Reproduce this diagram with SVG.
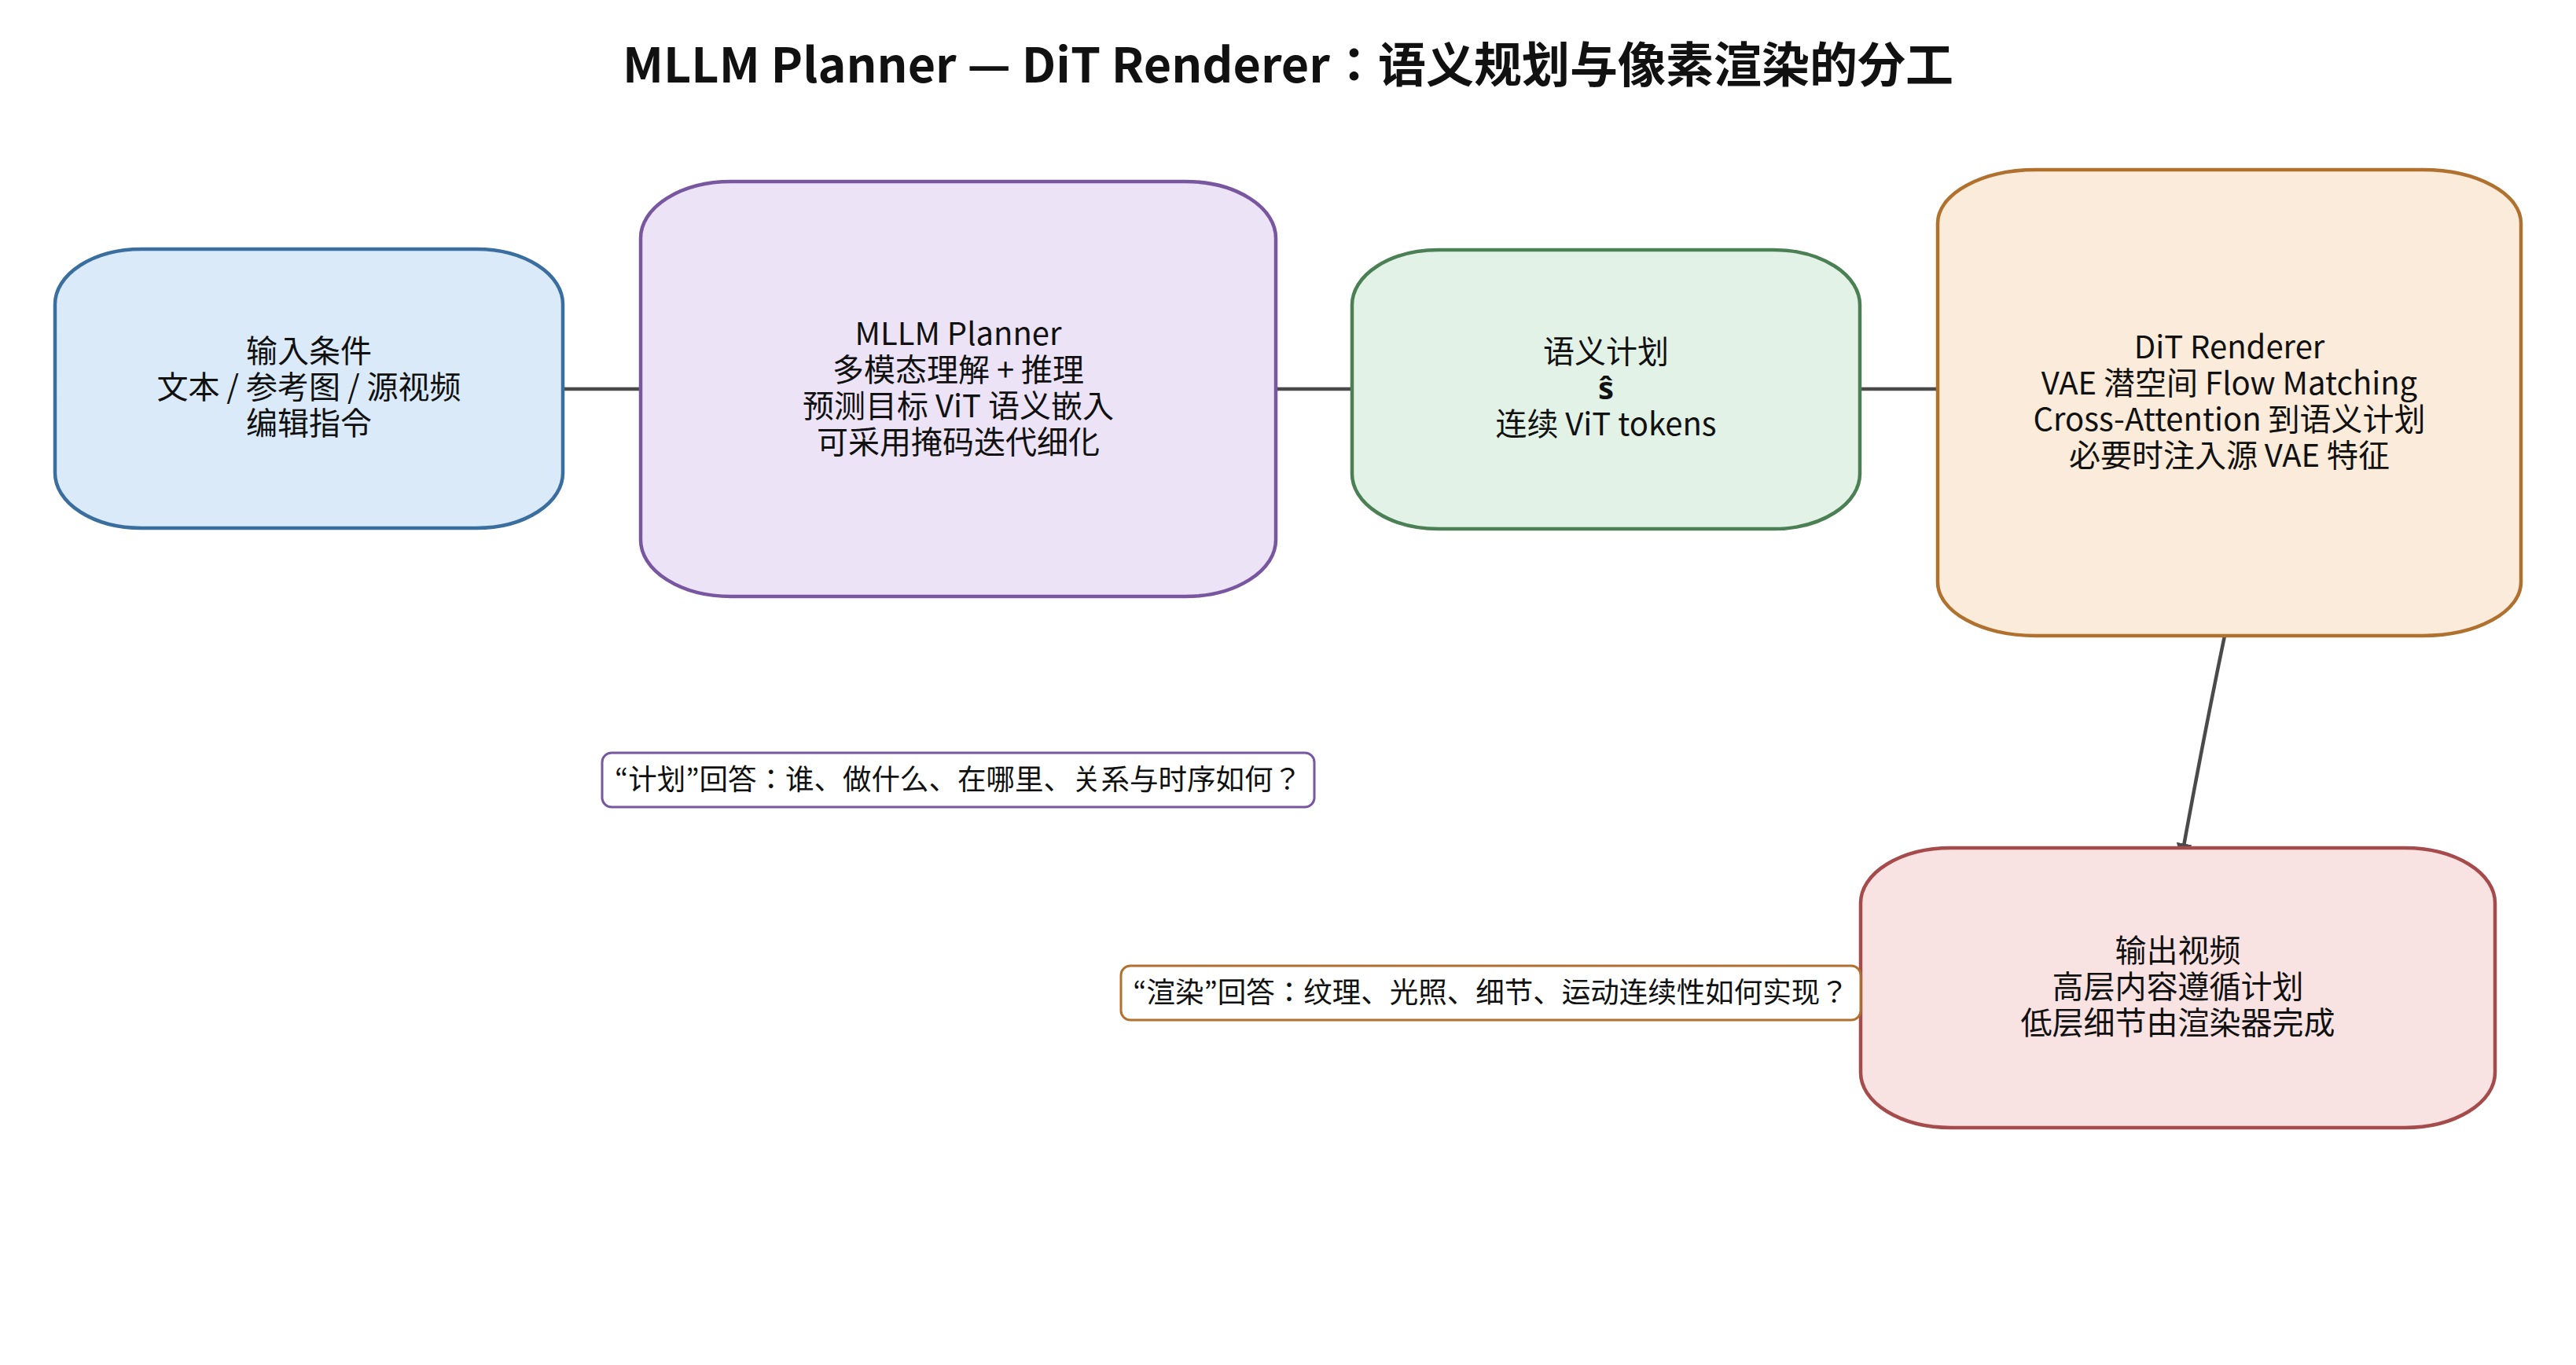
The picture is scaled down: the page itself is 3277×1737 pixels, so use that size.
<svg xmlns="http://www.w3.org/2000/svg" width="3277" height="1737" viewBox="0 0 3277 1737">
<style>
text{font-family:"Noto Sans CJK JP","Noto Sans CJK SC","Noto Sans",sans-serif;fill:#111;text-anchor:middle}
.title{font-size:61px;font-weight:bold}
.lbl{font-size:40px}
.note{font-size:36.5px}
.edge{stroke:#4a4a4a;stroke-width:4.5;fill:none}
.nd{stroke-width:4.5}
</style>
<defs>
<marker id="arr" viewBox="0 0 10 10" refX="10" refY="5" markerWidth="4.4" markerHeight="4.4" orient="auto" markerUnits="strokeWidth">
<path d="M0,0 L10,5 L0,10 z" fill="#4a4a4a"/>
</marker>
</defs>
<rect width="3277" height="1737" fill="#ffffff"/>
<text class="title" x="1638.5" y="105">MLLM Planner — DiT Renderer：语义规划与像素渲染的分工</text>
<g id="connectors">
<line class="edge" x1="717" y1="495" x2="815" y2="495"/>
<line class="edge" x1="1623" y1="495" x2="1720" y2="495"/>
<line class="edge" x1="2366" y1="495" x2="2465" y2="495"/>
<path class="edge" d="M2830,809 Q2802,944 2775,1093" marker-end="url(#arr)"/>
</g>
<g id="input">
<path class="nd" fill="#dbeaf8" stroke="#3a6e9e" d="M180,317 H606 A110,70 0 0 1 716,387 V602 A110,70 0 0 1 606,672 H180 A110,70 0 0 1 70,602 V387 A110,70 0 0 1 180,317 Z"/>
<text class="lbl" x="393" y="461">输入条件</text>
<text class="lbl" x="393" y="507">文本 / 参考图 / 源视频</text>
<text class="lbl" x="393" y="553">编辑指令</text>
</g>
<g id="planner">
<path class="nd" fill="#ece3f6" stroke="#7856a0" d="M930,231 H1508 A115,72 0 0 1 1623,303 V687 A115,72 0 0 1 1508,759 H930 A115,72 0 0 1 815,687 V303 A115,72 0 0 1 930,231 Z"/>
<text class="lbl" x="1219" y="439">MLLM Planner</text>
<text class="lbl" x="1219" y="485">多模态理解 + 推理</text>
<text class="lbl" x="1219" y="531">预测目标 ViT 语义嵌入</text>
<text class="lbl" x="1219" y="577">可采用掩码迭代细化</text>
</g>
<g id="plan">
<path class="nd" fill="#e2f2e6" stroke="#4a8054" d="M1830,318 H2256 A110,70 0 0 1 2366,388 V603 A110,70 0 0 1 2256,673 H1830 A110,70 0 0 1 1720,603 V388 A110,70 0 0 1 1830,318 Z"/>
<text class="lbl" x="2043" y="462">语义计划</text>
<text class="lbl" x="2043" y="508" font-weight="bold">ŝ</text>
<text class="lbl" x="2043" y="554">连续 ViT tokens</text>
</g>
<g id="renderer">
<path class="nd" fill="#fbebda" stroke="#b0702e" d="M2590,216 H3082 A125,68 0 0 1 3207,284 V741 A125,68 0 0 1 3082,809 H2590 A125,68 0 0 1 2465,741 V284 A125,68 0 0 1 2590,216 Z"/>
<text class="lbl" x="2836" y="456">DiT Renderer</text>
<text class="lbl" x="2836" y="502">VAE 潜空间 Flow Matching</text>
<text class="lbl" x="2836" y="548">Cross-Attention 到语义计划</text>
<text class="lbl" x="2836" y="594">必要时注入源 VAE 特征</text>
</g>
<g id="output">
<path class="nd" fill="#f8e2e2" stroke="#a64b4b" d="M2482,1079 H3059 A115,70 0 0 1 3174,1149 V1365 A115,70 0 0 1 3059,1435 H2482 A115,70 0 0 1 2367,1365 V1149 A115,70 0 0 1 2482,1079 Z"/>
<text class="lbl" x="2770.5" y="1224">输出视频</text>
<text class="lbl" x="2770.5" y="1270">高层内容遵循计划</text>
<text class="lbl" x="2770.5" y="1316">低层细节由渲染器完成</text>
</g>
<g id="note-plan">
<rect x="766" y="958" width="906" height="69" rx="12" fill="#ffffff" stroke="#7856a0" stroke-width="3"/>
<text class="note" x="1219" y="1005">“计划”回答：谁、做什么、在哪里、关系与时序如何？</text>
</g>
<g id="note-render">
<rect x="1426" y="1229" width="941" height="69" rx="12" fill="#ffffff" stroke="#b0702e" stroke-width="3"/>
<text class="note" x="1896.5" y="1276">“渲染”回答：纹理、光照、细节、运动连续性如何实现？</text>
</g>
</svg>
